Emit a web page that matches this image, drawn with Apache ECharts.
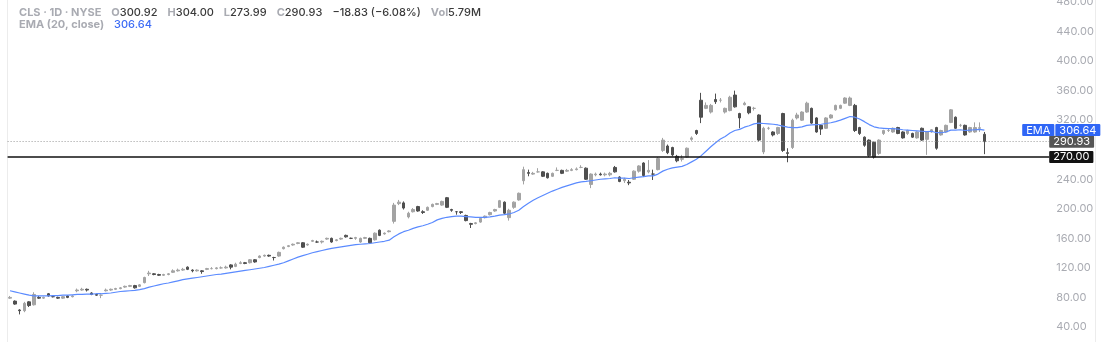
<!DOCTYPE html>
<html><head><meta charset="utf-8">
<script src="https://cdn.jsdelivr.net/npm/echarts@6/dist/echarts.min.js"></script>
<style>html,body{margin:0;padding:0;background:#fff}#c{width:1104px;height:342px}</style>
</head><body><div id="c"></div><script>
// ---- data ----
const opens = [
79,75,63,62,74,70,80,79,85,81, 80,79,82,81,89,90,91,86,84,83,
89,90,91,92,94,95,96,95,100,112, 112,111,110,111,114,116,117,121,117,116,
116,118,119,119,120,120,124,122,126,127, 127,131,134,136,137,134,136,146,149,151,
153,154,151,156,155,155,159,160,157,159, 164,160,160,155,160,160,158,171,166,169,
183,207,208,189,196,203,196,198,203,206, 205,215,199,196,196,191,180,180,182,188,
192,197,202,209,188,202,212,238,249,247, 250,250,248,244,252,252,251,252,253,256,
255,233,246,247,246,246,256,243,238,236, 240,251,262,250,247,253,279,285,283,271,
267,270,294,306,347,336,331,348,347,331, 333,354,329,341,338,336,327,277,309,304,
302,329,276,283,323,320,331,336,323,313, 309,323,334,336,343,340,340,310,297,293,
290,275,302,306,304,310,304,302,302,296, 309,294,304,310,300,304,317,324,313,313,
304,304,309,300.92];
const closes = [
80,71,62,72,69,84,79,80,82,81, 79,81,80,82,90,91,90,84,83,83,
90,91,92,93,95,96,93,97,107,113, 111,110,111,112,116,117,118,118,116,117,
115,119,119,120,120,121,121,125,127,126, 131,128,136,137,136,134,141,148,150,152,
154,148,152,157,155,156,160,155,158,160, 162,160,161,160,161,154,167,164,167,170,
205,209,201,194,199,197,195,202,206,207, 210,202,198,196,195,184,179,181,187,190,
195,199,211,194,198,209,221,253,248,248, 250,244,242,248,252,248,252,253,254,256,
240,247,247,246,247,248,250,237,240,235, 251,258,245,252,247,268,293,276,273,265,
268,282,296,302,324,340,340,345,347,336, 351,338,323,343,330,336,293,309,309,300,
310,279,275,320,327,331,343,316,304,308, 323,327,340,340,350,350,306,302,286,272,
270,293,306,306,309,302,296,306,297,304, 293,304,307,282,306,313,334,309,313,300,
310,310,309.76,290.93];
const lows = [
78,70,57,60,67,69,78,78,81,80, 78,78,79,80,87,89,88,83,82,79,
88,89,90,91,93,94,92,94,99,109, 110,109,109,110,113,115,116,117,114,115,
112,117,118,118,119,119,118,121,125,125, 126,127,133,135,135,130,135,145,148,150,
152,147,150,155,154,153,158,154,156,158, 161,159,158,154,159,153,157,163,165,168,
180,205,199,187,195,196,193,197,202,205, 204,201,196,192,193,183,174,179,181,187,
191,196,201,193,184,200,211,233,244,246, 249,243,241,243,251,247,250,251,252,255,
239,228,244,245,244,244,249,236,235,232, 239,249,243,248,239,252,277,274,271,263,
264,269,292,300,316,335,329,342,344,329, 332,337,309,340,328,333,291,274,307,298,
300,277,263,281,321,319,330,315,303,300, 308,322,333,335,342,339,304,300,284,270,
268,273,300,304,303,301,295,300,296,295, 292,273,303,280,299,303,316,308,311,299,
303,303,304,273.99];
const highs = [
82,76,64,74,75,87,82,81,86,83, 81,82,83,83,92,93,92,87,85,84,
92,92,93,94,96,97,97,98,108,116, 113,112,112,113,118,119,120,122,118,118,
117,120,121,121,122,123,125,127,129,128, 132,132,137,138,138,135,142,149,151,153,
155,155,153,158,157,157,161,161,159,161, 165,161,162,161,162,161,168,172,168,171,
208,212,210,196,201,204,198,203,207,208, 211,216,200,197,197,192,181,182,188,191,
196,200,212,210,200,210,222,257,253,250, 255,251,249,249,256,253,254,255,256,259,
256,248,249,249,249,250,258,244,242,239, 252,259,263,266,253,270,296,287,284,273,
273,283,298,307,357,344,342,356,350,337, 353,360,330,345,339,338,328,311,311,305,
311,330,282,322,330,332,345,337,324,314, 324,328,341,341,351,352,342,311,298,294,
291,294,307,308,310,311,305,307,303,305, 310,305,308,311,307,314,335,325,315,314,
311,317,317,304];
const emaValues = [
89,87.5,86,84.5,83,82,82,82,82,82.5, 82.5,83,83,83.5,84,84,84.5,84.5,85,85,
85.5,86,87,88,88.5,89,89.5,90.5,92,94, 95.5,97,98.5,99.5,101,102.5,104,105,106,107,
108,109,110,111,111.5,112.5,113.5,114.5,115.5,116.5, 117.5,118.5,119.5,120.5,122,123.5,125,127,129.5,132,
134.5,136.5,138.5,140.5,142,143.5,145,146.5,147.5,148.5, 149.5,150.5,151.5,152,152.5,153,154,155,156,157.5,
162,166,169,171,173.5,175.5,177,179,181.5,185, 187,188.5,189.5,190,190,189.5,189,188.5,188.5,188.5,
189,190,191.5,192,193,195,198,203,207.5,211.5, 215,218,221,224,226.5,229,231,233,235,236.5,
237,238,239,240,240.5,241,242,241.5,241.5,241, 242,243,243.5,244.5,244.5,247,251,253.5,255.5,256.5,
257.5,260,263.5,267,272,278,284,289.5,294.5,298, 302.5,306,307.5,310.5,312.5,315,316,315.5,315,314.5,
313.5,312,310.5,310,310,311,313,313.5,314,314.5, 315.5,316.5,318,320,322.5,325,324,321.5,318,314,
311,309.5,309,308.5,308.5,308,307,306.5,306,305.5, 305,304.5,305,303,303,304,306.5,306.5,307,306,
306.5,307,307.5,306.64];
const emptySlotsRight = 13;
const headerSymbol = 'CLS · 1D · NYSE';
const headerKeys = ['O', 'H', 'L', 'C'];
const headerVals = ['300.92', '304.00', '273.99', '290.93'];
const headerChange = '−18.83 (−6.08%)';
const headerVol = '5.79M';
const emaName = 'EMA (20, close)';
const emaLast = 306.64;
const lastClose = 290.93;
const levelPrice = 270;
const yMin = 0, yMax = 480, yStep = 40;
const hiddenTick = 280;

// ---- chart ----
const categories = Array.from({length: opens.length + emptySlotsRight}, (_, i) => String(i));
const ohlc = opens.map((o, i) => [o, closes[i], lows[i], highs[i]]);
const FONT = 'Inter, "Noto Sans", sans-serif';
const chart = echarts.init(document.getElementById('c'), null, {renderer: 'canvas'});

let line1 = '{g|' + headerSymbol + '}  ';
headerKeys.forEach((k, i) => { line1 += '{g|' + k + '}{v|' + headerVals[i] + '}  '; });
line1 += '{v|' + headerChange + '}  {g|Vol}{v|' + headerVol + '}';

const rich = {
  g: {color: '#a9abb2', fontSize: 11, fontFamily: FONT},
  v: {color: '#3b3b3b', fontSize: 11, fontFamily: FONT, fontWeight: 500},
  b: {color: '#3d6cf5', fontSize: 11, fontFamily: FONT, fontWeight: 500}
};
const boxLabel = (bg) => ({backgroundColor: bg, color: '#fff', fontSize: 11, fontFamily: FONT, padding: [1, 4, 0, 4], borderRadius: 1});

chart.setOption({
  animation: false,
  backgroundColor: '#fff',
  title: [
    {left: 14, top: -1, text: line1, textStyle: {rich: rich}},
    {left: 14, top: 11, text: '{g|' + emaName + '}  {b|' + emaLast.toFixed(2) + '}', textStyle: {rich: rich}}
  ],
  grid: {left: 7.6, right: 54.8, top: 2, height: 354.5, containLabel: false, outerBoundsMode: 'none'},
  xAxis: {
    type: 'category', data: categories, boundaryGap: true,
    axisLine: {show: false}, axisTick: {show: false}, axisLabel: {show: false}, splitLine: {show: false}
  },
  yAxis: {
    type: 'value', position: 'right', min: yMin, max: yMax, interval: yStep, scale: false,
    axisLine: {show: false}, axisTick: {show: false}, splitLine: {show: false},
    axisLabel: {
      color: '#a9abb2', fontSize: 11, fontFamily: FONT, margin: 7,
      formatter: v => v === hiddenTick ? '' : v.toFixed(2)
    }
  },
  graphic: [
    {type: 'line', shape: {x1: 7.5, y1: 0, x2: 7.5, y2: 342}, style: {stroke: '#ececec', lineWidth: 1}, silent: true},
    {type: 'line', shape: {x1: 1095.5, y1: 0, x2: 1095.5, y2: 342}, style: {stroke: '#ececec', lineWidth: 1}, silent: true}
  ],
  series: [
    {
      type: 'candlestick', data: ohlc, barWidth: 3,
      itemStyle: {color: '#a3a3a3', color0: '#4f4f4f', borderColor: '#a3a3a3', borderColor0: '#4f4f4f', borderWidth: 1},
      markLine: {
        symbol: 'none', silent: true, animation: false,
        data: [
          {yAxis: levelPrice, lineStyle: {color: '#111', width: 1.6, type: 'solid'},
           label: Object.assign({show: true, position: 'end', distance: 0, formatter: levelPrice.toFixed(2)}, boxLabel('#111'))},
          {yAxis: lastClose, lineStyle: {color: '#9a9a9a', width: 1, type: [1, 2]},
           label: Object.assign({show: true, position: 'end', distance: 0, formatter: lastClose.toFixed(2)}, boxLabel('#555'))}
        ]
      },
      z: 3
    },
    {
      type: 'line', data: emaValues, showSymbol: false, smooth: false,
      lineStyle: {color: '#5b8bff', width: 1.2},
      markLine: {
        symbol: 'none', silent: true, animation: false,
        data: [
          {yAxis: emaLast, lineStyle: {color: 'rgba(0,0,0,0)', width: 0},
           label: {show: true, position: 'end', distance: 0, offset: [-27, 0],
                   formatter: '{a|EMA}{s| }{n|' + emaLast.toFixed(2) + '}',
                   rich: {
                     a: boxLabel('#2f66f6'),
                     s: {fontSize: 1, width: 1},
                     n: boxLabel('#2f66f6')
                   }}}
        ]
      },
      z: 4
    }
  ]
});
</script></body></html>
